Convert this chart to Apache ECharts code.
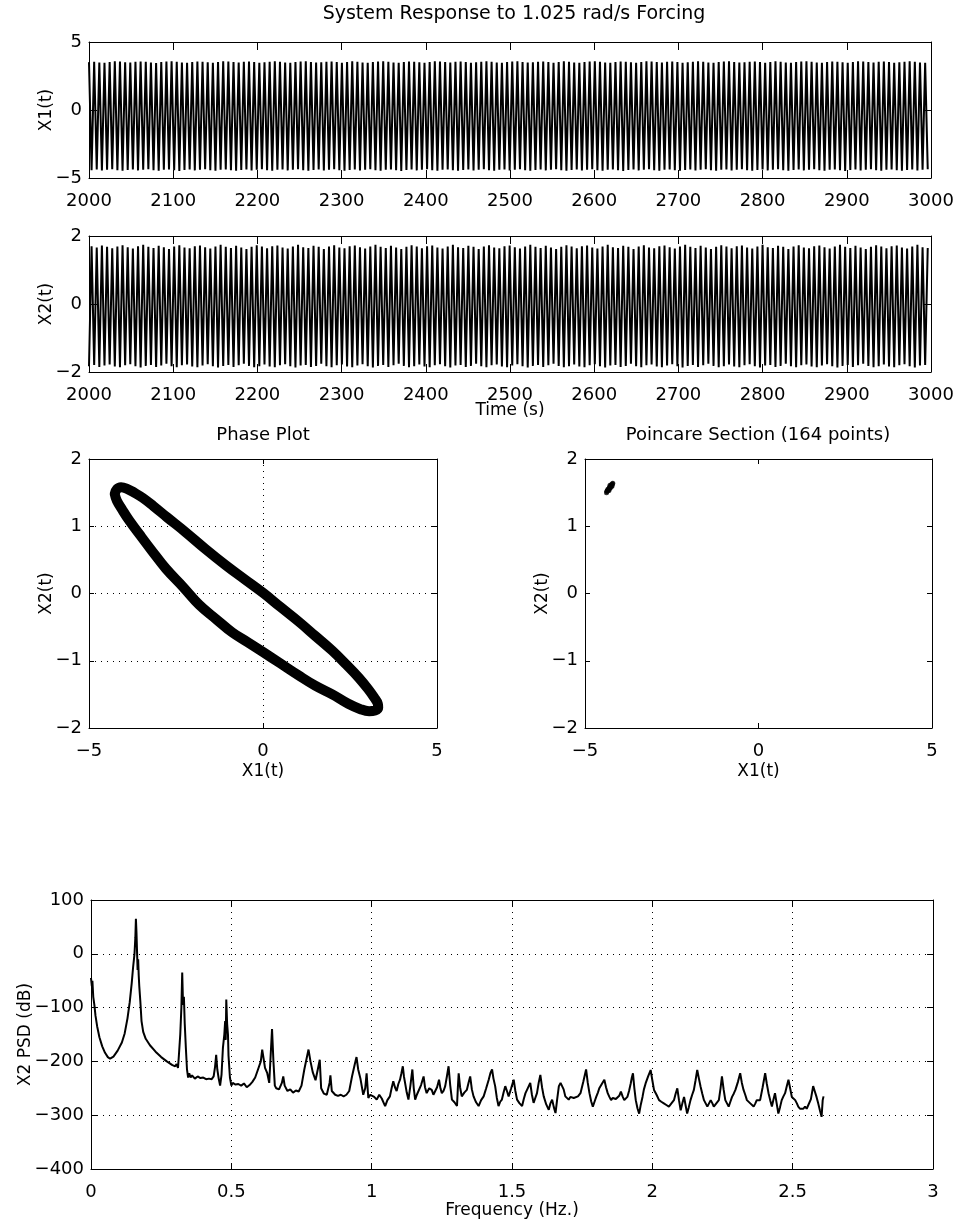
<!DOCTYPE html>
<html>
<head>
<meta charset="utf-8">
<script src="https://cdn.jsdelivr.net/npm/echarts@6/dist/echarts.min.js"></script>
<style>
html,body{margin:0;padding:0;background:#fff;}
#chart{width:958px;height:1226px;}
</style>
</head>
<body>
<div id="chart"></div>
<script>
// ---------------- DATA ----------------
const mainTitle = 'System Response to 1.025 rad/s Forcing';
const forcingOmega = 1.025;          // rad/s (from title)
const timeStart = 2000;

// per-cycle extremes (163 forcing cycles in 1000 s)
const x1Max = [
3.52,3.55,3.50,3.47,3.53,3.58,3.56,3.51,3.49,3.54,
3.57,3.55,3.50,3.46,3.52,3.56,3.59,3.54,3.50,3.48,
3.53,3.57,3.55,3.51,3.47,3.52,3.58,3.56,3.52,3.49,
3.54,3.57,3.53,3.48,3.51,3.55,3.59,3.55,3.50,3.47,
3.52,3.56,3.58,3.53,3.49,3.51,3.55,3.57,3.52,3.48,
3.53,3.58,3.55,3.50,3.47,3.52,3.56,3.59,3.54,3.50,
3.48,3.53,3.57,3.55,3.51,3.47,3.52,3.58,3.56,3.52,
3.49,3.54,3.57,3.53,3.48,3.51,3.55,3.59,3.55,3.50,
3.47,3.52,3.56,3.58,3.53,3.49,3.51,3.55,3.57,3.52,
3.48,3.53,3.58,3.55,3.50,3.47,3.52,3.56,3.59,3.54,
3.50,3.48,3.53,3.57,3.55,3.51,3.47,3.52,3.58,3.56,
3.52,3.49,3.54,3.57,3.53,3.48,3.51,3.55,3.59,3.55,
3.50,3.47,3.52,3.56,3.58,3.53,3.49,3.51,3.55,3.57,
3.52,3.48,3.53,3.58,3.55,3.50,3.47,3.52,3.56,3.59,
3.54,3.50,3.48,3.53,3.57,3.55,3.51,3.47,3.52,3.58,
3.56,3.52,3.49,3.54,3.57,3.53,3.48,3.51,3.55,3.59,
3.55,3.50,3.47];
const x1Min = [
-4.42,-4.38,-4.45,-4.40,-4.36,-4.43,-4.47,-4.41,-4.37,-4.44,
-4.39,-4.35,-4.42,-4.46,-4.40,-4.37,-4.43,-4.48,-4.41,-4.38,
-4.44,-4.40,-4.36,-4.42,-4.46,-4.39,-4.37,-4.43,-4.47,-4.41,
-4.38,-4.45,-4.40,-4.36,-4.43,-4.46,-4.40,-4.37,-4.44,-4.39,
-4.35,-4.42,-4.47,-4.41,-4.38,-4.44,-4.40,-4.36,-4.43,-4.47,
-4.41,-4.37,-4.44,-4.39,-4.35,-4.42,-4.46,-4.40,-4.37,-4.43,
-4.48,-4.41,-4.38,-4.44,-4.40,-4.36,-4.42,-4.46,-4.39,-4.37,
-4.43,-4.47,-4.41,-4.38,-4.45,-4.40,-4.36,-4.43,-4.46,-4.40,
-4.37,-4.44,-4.39,-4.35,-4.42,-4.47,-4.41,-4.38,-4.44,-4.40,
-4.36,-4.43,-4.47,-4.41,-4.37,-4.44,-4.39,-4.35,-4.42,-4.46,
-4.40,-4.37,-4.43,-4.48,-4.41,-4.38,-4.44,-4.40,-4.36,-4.42,
-4.46,-4.39,-4.37,-4.43,-4.47,-4.41,-4.38,-4.45,-4.40,-4.36,
-4.43,-4.46,-4.40,-4.37,-4.44,-4.39,-4.35,-4.42,-4.47,-4.41,
-4.38,-4.44,-4.40,-4.36,-4.43,-4.47,-4.41,-4.37,-4.44,-4.39,
-4.35,-4.42,-4.46,-4.40,-4.37,-4.43,-4.48,-4.41,-4.38,-4.44,
-4.40,-4.36,-4.42,-4.46,-4.39,-4.37,-4.43,-4.47,-4.41,-4.38,
-4.45,-4.40,-4.36];
const x2Max = [
1.70,1.66,1.72,1.68,1.64,1.69,1.73,1.67,1.63,1.70,
1.74,1.68,1.65,1.71,1.67,1.62,1.69,1.73,1.66,1.64,
1.70,1.72,1.67,1.63,1.69,1.74,1.68,1.65,1.71,1.66,
1.62,1.68,1.73,1.69,1.64,1.70,1.72,1.66,1.63,1.69,
1.74,1.67,1.65,1.71,1.68,1.62,1.69,1.73,1.66,1.64,
1.70,1.72,1.67,1.63,1.69,1.74,1.68,1.65,1.71,1.66,
1.62,1.68,1.73,1.69,1.64,1.70,1.72,1.66,1.63,1.69,
1.74,1.67,1.65,1.71,1.68,1.62,1.69,1.73,1.66,1.64,
1.70,1.72,1.67,1.63,1.69,1.74,1.68,1.65,1.71,1.66,
1.62,1.68,1.73,1.69,1.64,1.70,1.72,1.66,1.63,1.69,
1.74,1.67,1.65,1.71,1.68,1.62,1.69,1.73,1.66,1.64,
1.70,1.72,1.67,1.63,1.69,1.74,1.68,1.65,1.71,1.66,
1.62,1.68,1.73,1.69,1.64,1.70,1.72,1.66,1.63,1.69,
1.74,1.67,1.65,1.71,1.68,1.62,1.69,1.73,1.66,1.64,
1.70,1.72,1.67,1.63,1.69,1.74,1.68,1.65,1.71,1.66,
1.62,1.68,1.73,1.69,1.64,1.70,1.72,1.66,1.63,1.69,
1.74,1.67,1.65];
const x2Min = [
-1.83,-1.79,-1.85,-1.81,-1.78,-1.84,-1.86,-1.80,-1.77,-1.83,
-1.87,-1.82,-1.79,-1.85,-1.81,-1.76,-1.83,-1.86,-1.80,-1.78,
-1.84,-1.86,-1.81,-1.77,-1.83,-1.87,-1.82,-1.79,-1.85,-1.80,
-1.76,-1.82,-1.86,-1.83,-1.78,-1.84,-1.86,-1.80,-1.77,-1.83,
-1.87,-1.81,-1.79,-1.85,-1.82,-1.76,-1.83,-1.86,-1.80,-1.78,
-1.84,-1.86,-1.81,-1.77,-1.83,-1.87,-1.82,-1.79,-1.85,-1.80,
-1.76,-1.82,-1.86,-1.83,-1.78,-1.84,-1.86,-1.80,-1.77,-1.83,
-1.87,-1.81,-1.79,-1.85,-1.82,-1.76,-1.83,-1.86,-1.80,-1.78,
-1.84,-1.86,-1.81,-1.77,-1.83,-1.87,-1.82,-1.79,-1.85,-1.80,
-1.76,-1.82,-1.86,-1.83,-1.78,-1.84,-1.86,-1.80,-1.77,-1.83,
-1.87,-1.81,-1.79,-1.85,-1.82,-1.76,-1.83,-1.86,-1.80,-1.78,
-1.84,-1.86,-1.81,-1.77,-1.83,-1.87,-1.82,-1.79,-1.85,-1.80,
-1.76,-1.82,-1.86,-1.83,-1.78,-1.84,-1.86,-1.80,-1.77,-1.83,
-1.87,-1.81,-1.79,-1.85,-1.82,-1.76,-1.83,-1.86,-1.80,-1.78,
-1.84,-1.86,-1.81,-1.77,-1.83,-1.87,-1.82,-1.79,-1.85,-1.80,
-1.76,-1.82,-1.86,-1.83,-1.78,-1.84,-1.86,-1.80,-1.77,-1.83,
-1.87,-1.81,-1.79];

// phase plot loop (band centre)
const phaseX1 = [-4.26,-4.20,-4.08,-3.92,-3.70,-3.45,-3.15,-2.75,-2.22,-1.65,-1.07,-0.50,0.00,0.50,1.03,1.50,1.99,2.40,2.75,3.02,3.20,3.30,3.31,3.22,3.05,2.80,2.45,1.99,1.50,1.03,0.50,0.00,-0.45,-0.88,-1.35,-1.83,-2.30,-2.79,-3.20,-3.55,-3.85,-4.05,-4.20,-4.26];
const phaseX2 = [1.48,1.55,1.58,1.56,1.50,1.42,1.30,1.13,0.91,0.66,0.42,0.20,0.01,-0.20,-0.42,-0.63,-0.85,-1.06,-1.25,-1.42,-1.55,-1.64,-1.70,-1.74,-1.75,-1.72,-1.64,-1.50,-1.37,-1.22,-1.04,-0.87,-0.72,-0.58,-0.38,-0.17,0.10,0.37,0.64,0.88,1.09,1.25,1.38,1.48];

// Poincare section points
const poincareX1 = [-4.38,-4.36,-4.35,-4.33,-4.32,-4.30,-4.29,-4.27,-4.26,-4.24,-4.23,-4.21,-4.20,-4.34,-4.31,-4.28,-4.25,-4.22,-4.37,-4.29];
const poincareX2 = [1.50,1.52,1.53,1.54,1.55,1.57,1.58,1.59,1.60,1.61,1.62,1.63,1.64,1.55,1.53,1.61,1.58,1.60,1.52,1.56];

// X2 power spectral density
const psdFreq = [0,0.003,0.005,0.008,0.012,0.016,0.022,0.03,0.04,0.05,0.06,0.068,0.08,0.095,0.11,0.12,0.13,0.138,0.145,0.15,0.155,0.158,0.16,0.162,0.164,0.166,0.168,0.17,0.172,0.176,0.18,0.186,0.195,0.21,0.23,0.25,0.27,0.29,0.3,0.305,0.31,0.313,0.318,0.322,0.325,0.328,0.331,0.334,0.338,0.342,0.346,0.35,0.355,0.36,0.37,0.38,0.39,0.40,0.41,0.42,0.43,0.437,0.442,0.446,0.45,0.455,0.46,0.465,0.47,0.475,0.478,0.48,0.482,0.485,0.488,0.49,0.495,0.5,0.505,0.515,0.525,0.535,0.545,0.555,0.565,0.575,0.585,0.595,0.605,0.61,0.615,0.62,0.628,0.635,0.64,0.645,0.65,0.655,0.66,0.67,0.68,0.685,0.69,0.7,0.71,0.72,0.73,0.74,0.75,0.76,0.768,0.775,0.782,0.79,0.8,0.81,0.815,0.82,0.83,0.84,0.85,0.853,0.858,0.87,0.88,0.89,0.9,0.91,0.92,0.93,0.94,0.946,0.952,0.96,0.97,0.977,0.982,0.988,0.995,1.0,
1.009,1.018,1.027,1.036,1.042,1.048,1.056,1.065,1.071,1.077,1.083,1.089,1.095,1.101,1.106,1.111,1.115,1.119,1.125,1.131,1.138,1.145,1.15,1.155,1.161,1.167,1.176,1.185,1.19,1.196,1.205,1.214,1.22,1.226,1.233,1.24,1.245,1.25,1.256,1.262,1.268,1.274,1.28,1.286,1.295,1.304,1.307,1.31,1.315,1.321,1.33,1.339,1.345,1.351,1.357,1.363,1.372,1.381,1.39,1.399,1.408,1.417,1.423,1.429,1.434,1.44,1.446,1.452,1.458,1.464,1.47,1.476,1.482,1.488,1.497,1.506,1.512,1.518,1.527,1.536,1.542,1.548,1.556,1.565,1.571,1.577,1.583,1.589,1.595,1.601,1.607,1.613,1.622,1.631,1.637,1.643,1.649,1.655,1.661,1.667,1.673,1.679,1.684,1.69,1.696,1.702,1.708,1.714,1.72,1.726,1.735,1.744,
1.754,1.764,1.77,1.776,1.782,1.788,1.794,1.8,1.806,1.811,1.82,1.829,1.835,1.841,1.847,1.853,1.859,1.865,1.87,1.876,1.882,1.888,1.894,1.9,1.906,1.911,1.917,1.923,1.927,1.931,1.936,1.941,1.947,1.953,1.959,1.965,1.97,1.976,1.985,1.994,2.0,2.006,2.015,2.024,2.032,2.041,2.05,2.059,2.068,2.077,2.083,2.089,2.095,2.101,2.107,2.113,2.119,2.124,2.13,2.136,2.142,2.148,2.154,2.16,2.166,2.172,2.178,2.184,2.19,2.196,2.202,2.208,2.214,2.219,2.228,2.237,2.243,2.248,2.254,2.26,2.266,2.272,2.278,2.284,2.29,2.296,2.305,2.313,2.319,2.325,2.331,2.337,2.343,2.349,2.355,2.361,2.367,2.372,2.378,2.384,2.393,2.402,2.408,2.414,2.42,2.426,2.432,2.437,2.443,2.449,2.455,2.461,2.467,2.473,2.479,2.485,2.491,2.497,2.503,2.509,2.515,2.52,2.526,2.532,2.538,2.544,2.55,2.556,2.565,2.573,2.579,2.585,2.591,2.597,2.6,2.603,2.607,2.61];
const psdDb = [-45,-60,-50,-80,-95,-115,-135,-155,-172,-184,-192,-195,-191,-180,-165,-148,-120,-90,-55,-25,0,30,65,40,5,-30,-10,-40,-60,-90,-125,-145,-158,-170,-182,-192,-200,-207,-209,-205,-212,-190,-150,-100,-35,-95,-80,-130,-175,-215,-230,-222,-230,-226,-232,-228,-231,-230,-233,-232,-233,-228,-210,-188,-215,-232,-245,-225,-175,-150,-125,-160,-85,-130,-150,-190,-230,-245,-240,-243,-242,-245,-241,-248,-244,-238,-230,-215,-200,-178,-195,-212,-222,-240,-190,-140,-200,-245,-250,-252,-240,-228,-245,-255,-252,-258,-254,-256,-245,-215,-195,-178,-200,-220,-235,-210,-197,-250,-260,-262,-240,-226,-255,-262,-264,-262,-265,-262,-255,-228,-205,-192,-215,-232,-262,-250,-222,-268,-262,-259,
-266,-271,-262,-269,-276,-283,-272,-265,-250,-237,-248,-255,-242,-234,-222,-209,-228,-240,-258,-271,-245,-215,-250,-271,-262,-259,-244,-228,-248,-259,-250,-253,-262,-265,-248,-234,-250,-259,-255,-246,-228,-209,-245,-271,-276,-283,-250,-222,-248,-265,-258,-253,-240,-228,-252,-265,-276,-283,-272,-265,-250,-234,-222,-215,-232,-246,-268,-283,-275,-271,-258,-246,-255,-265,-250,-234,-255,-271,-278,-283,-270,-259,-250,-240,-262,-277,-268,-259,-240,-225,-248,-265,-280,-290,-278,-271,-285,-296,-270,-246,-240,-237,-252,-265,-268,-271,-266,-265,-268,-271,-265,-259,
-238,-215,-240,-259,-274,-284,-275,-266,-258,-250,-242,-234,-248,-259,-266,-272,-268,-266,-270,-272,-264,-256,-265,-272,-270,-266,-255,-241,-230,-222,-250,-272,-287,-297,-280,-266,-252,-241,-228,-216,-235,-253,-262,-272,-275,-278,-281,-284,-278,-272,-260,-250,-272,-291,-278,-266,-283,-297,-285,-272,-262,-253,-235,-216,-232,-247,-260,-272,-278,-284,-278,-272,-278,-284,-278,-272,-250,-228,-252,-272,-278,-284,-275,-266,-260,-253,-238,-222,-240,-253,-262,-272,-275,-278,-281,-284,-278,-272,-272,-272,-248,-222,-242,-259,-272,-284,-270,-259,-278,-297,-285,-272,-265,-259,-246,-234,-250,-266,-269,-272,-278,-284,-288,-291,-288,-284,-288,-291,-270,-246,-256,-266,-278,-291,-297,-303,-272,-265];

// ---------------- BUILD ----------------
const FONT = 'DejaVu Sans';
const period = 2 * Math.PI / forcingOmega;
const x1Series = [], x2Series = [];
for (let k = 0; k < x1Max.length; k++) {
  x1Series.push([timeStart + k * period, x1Max[k]]);
  x1Series.push([timeStart + (k + 0.5) * period, x1Min[k]]);
  x2Series.push([timeStart + k * period, x2Min[k]]);
  x2Series.push([timeStart + (k + 0.5) * period, x2Max[k]]);
}
const phaseData = phaseX1.map((v, i) => [v, phaseX2[i]]);
const poincareData = poincareX1.map((v, i) => [v, poincareX2[i]]);
const psdData = psdFreq.map((v, i) => [v, psdDb[i]]);

const minusFmt = v => String(v).replace('-', '\u2212');
const grids = [
  {left: 89, top: 42, width: 842, height: 136},
  {left: 89, top: 236, width: 842, height: 136},
  {left: 89, top: 459, width: 348, height: 269},
  {left: 585, top: 459, width: 347, height: 269},
  {left: 91, top: 900, width: 842, height: 269}
];
const axCfg = [
  {x: {min: 2000, max: 3000, interval: 100}, y: {min: -5, max: 5, interval: 5}, tick: 8, grid: false, yName: 'X1(t)', xName: '', yGap: 34},
  {x: {min: 2000, max: 3000, interval: 100}, y: {min: -2, max: 2, interval: 2}, tick: 8, grid: false, yName: 'X2(t)', xName: 'Time (s)', yGap: 34, xGap: 30},
  {x: {min: -5, max: 5, interval: 5}, y: {min: -2, max: 2, interval: 1}, tick: 5, grid: true, yName: 'X2(t)', xName: 'X1(t)', yGap: 34, xGap: 35},
  {x: {min: -5, max: 5, interval: 5}, y: {min: -2, max: 2, interval: 1}, tick: 5, grid: false, yName: 'X2(t)', xName: 'X1(t)', yGap: 34, xGap: 35},
  {x: {min: 0, max: 3, interval: 0.5}, y: {min: -400, max: 100, interval: 100}, tick: 6, grid: true, yName: 'X2 PSD (dB)', xName: 'Frequency (Hz.)', yGap: 57, xGap: 33}
];
const xAxes = [], yAxes = [];
const lineBlack = {color: '#000', width: 1};
const labelStyle = {color: '#000', fontFamily: FONT, fontSize: 18, formatter: minusFmt};
const nameStyle = {color: '#000', fontFamily: FONT, fontSize: 17};
axCfg.forEach((c, gi) => {
  const split = {show: c.grid, lineStyle: {color: '#000', type: [1, 5], width: 1}};
  xAxes.push(Object.assign({
    type: 'value', gridIndex: gi, position: 'bottom',
    axisLine: {show: true, onZero: false, lineStyle: lineBlack},
    axisTick: {show: true, inside: true, length: c.tick, lineStyle: lineBlack},
    axisLabel: Object.assign({margin: 14}, labelStyle),
    splitLine: split,
    name: c.xName, nameLocation: 'middle', nameGap: c.xGap || 30, nameTextStyle: nameStyle,
    nameMoveOverlap: false
  }, c.x));
  xAxes.push(Object.assign({
    type: 'value', gridIndex: gi, position: 'top',
    axisLine: {show: true, onZero: false, lineStyle: lineBlack},
    axisTick: {show: true, inside: true, length: c.tick, lineStyle: lineBlack},
    axisLabel: {show: false}, splitLine: {show: false}
  }, c.x));
  yAxes.push(Object.assign({
    type: 'value', gridIndex: gi, position: 'left',
    axisLine: {show: true, onZero: false, lineStyle: lineBlack},
    axisTick: {show: true, inside: true, length: c.tick, lineStyle: lineBlack},
    axisLabel: Object.assign({margin: 7}, labelStyle),
    splitLine: split,
    name: c.yName, nameLocation: 'middle', nameGap: c.yGap, nameRotate: 90, nameTextStyle: nameStyle,
    nameMoveOverlap: false
  }, c.y));
  yAxes.push(Object.assign({
    type: 'value', gridIndex: gi, position: 'right',
    axisLine: {show: true, onZero: false, lineStyle: lineBlack},
    axisTick: {show: true, inside: true, length: c.tick, lineStyle: lineBlack},
    axisLabel: {show: false}, splitLine: {show: false}
  }, c.y));
});

const titleStyle = {color: '#000', fontFamily: FONT, fontSize: 19, fontWeight: 'normal'};
const subTitleStyle = {color: '#000', fontFamily: FONT, fontSize: 18, fontWeight: 'normal'};
const option = {
  backgroundColor: '#fff',
  animation: false,
  title: [
    {text: mainTitle, left: 514, top: 5, textAlign: 'center', padding: 0, textStyle: titleStyle},
    {text: 'Phase Plot', left: 263, top: 426, textAlign: 'center', padding: 0, textStyle: subTitleStyle},
    {text: 'Poincare Section (164 points)', left: 758, top: 426, textAlign: 'center', padding: 0, textStyle: subTitleStyle}
  ],
  grid: grids,
  xAxis: xAxes,
  yAxis: yAxes,
  series: [
    {type: 'line', xAxisIndex: 0, yAxisIndex: 0, data: x1Series, showSymbol: false, symbol: 'none', lineStyle: {color: '#000', width: 2}},
    {type: 'line', xAxisIndex: 2, yAxisIndex: 2, data: x2Series, showSymbol: false, symbol: 'none', lineStyle: {color: '#000', width: 2}},
    {type: 'line', xAxisIndex: 4, yAxisIndex: 4, data: phaseData, showSymbol: false, symbol: 'none', smooth: 0.4, lineStyle: {color: '#000', width: 10, join: 'round', cap: 'round'}},
    {type: 'scatter', xAxisIndex: 6, yAxisIndex: 6, data: poincareData, symbol: 'circle', symbolSize: 5, itemStyle: {color: '#000'}},
    {type: 'line', xAxisIndex: 8, yAxisIndex: 8, data: psdData, showSymbol: false, symbol: 'none', lineStyle: {color: '#000', width: 2}}
  ]
};
const chart = echarts.init(document.getElementById('chart'), null, {renderer: 'canvas'});
chart.setOption(option);
</script>
</body>
</html>
